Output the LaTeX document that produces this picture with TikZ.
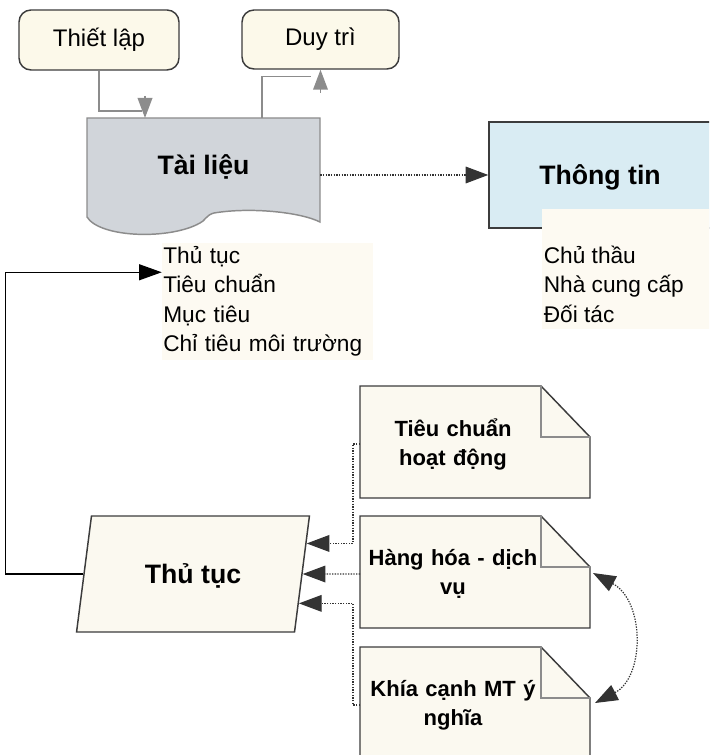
\documentclass[tikz,border=0pt]{standalone}
\usepackage{fontspec}
\setmainfont{Liberation Sans}
\usetikzlibrary{calc}
\usetikzlibrary{arrows.meta}
\usetikzlibrary{shapes.geometric}

\definecolor{creme}{RGB}{252,249,234}
\definecolor{docgrey}{RGB}{209,213,218}
\definecolor{infoblue}{RGB}{217,236,243}
\definecolor{notecreme}{RGB}{251,249,240}
\definecolor{listcreme}{RGB}{253,250,242}
\definecolor{linegrey}{RGB}{140,140,140}
\definecolor{edge}{RGB}{60,60,60}

\begin{document}
\begin{tikzpicture}[x=0.75pt,y=-0.75pt,
  topbox/.style={draw=edge,fill=creme,rounded corners=9pt,line width=1.1pt,font=\fontsize{18}{21}\selectfont},
  bigtext/.style={text depth=0pt,font=\fontsize{20}{24}\selectfont\bfseries},
  listtext/.style={align=left,inner xsep=1pt,inner ysep=3pt,font=\fontsize{17}{22}\selectfont},
  listbox/.style={listtext,fill=listcreme},
  notetext/.style={text width=132pt,align=center,inner xsep=0pt,outer xsep=3.75pt,font=\fontsize{16.5}{21.75}\selectfont\bfseries},
  notebd/.style={draw=edge,fill=notecreme,line width=1.1pt},
  foldline/.style={draw=linegrey,line width=0.9pt},
  procbox/.style={trapezium,trapezium left angle=75,trapezium right angle=105,trapezium stretches=true,
    minimum width=175.5pt,minimum height=87pt,draw=edge,fill=notecreme,line width=1.1pt,bigtext},
  greyline/.style={draw=linegrey,line width=1.1pt},
  greytip/.style={draw=linegrey,line width=1.1pt,-{Triangle[length=15pt,width=11pt]}},
  blackarrow/.style={draw=black,line width=0.9pt,-{Triangle[length=17pt,width=12pt]}},
  dotarrow/.style={draw=black!80,line width=0.9pt,dash pattern=on 1pt off 1pt,-{Triangle[length=17pt,width=12.5pt]}}]

\clip (0,0) rectangle (709,755);

% top boxes
\node[topbox,minimum width=120pt,minimum height=45pt] (setup) at (99,40) {Thiết lập};
\node[topbox,minimum width=117.75pt,minimum height=44.25pt] (keep) at (320.5,39.5) {Duy trì};

% document
\filldraw[draw=linegrey,fill=docgrey,line width=1.1pt] (87,118) -- (320,118) -- (320,222) .. controls (300,212) and (250,207) .. (214,213) .. controls (206,215) and (205,221) .. (200,223) .. controls (170,240) and (100,238) .. (87,217) -- cycle;
\node[bigtext,minimum width=174.75pt,minimum height=70.5pt] (doc) at (203.5,165) {Tài liệu};
\coordinate (docin) at (145,118);
\coordinate (docout) at (262,118);

\draw[greyline] (setup.south) |- ($(docin)+(-3,-7)$);
\draw[greytip] ($(docin)+(0,-22)$) -- (docin);
\draw[greyline] (docout) |- ($(keep.south)+(-10,7)$);
\draw[greytip] ($(keep.south)+(0,23)$) -- (keep.south);

\node[listbox,anchor=north west,text width=156pt] (list) at ($(doc.south west)+(75,30)$) {Thủ tục\\Tiêu chuẩn\\Mục tiêu\\Chỉ tiêu môi trường};

% info
\node[bigtext,draw=edge,fill=infoblue,line width=1.1pt,minimum width=166.5pt,minimum height=79.5pt] (info) at (600,175) {Thông tin};
\fill[listcreme] ($(info.south west)+(54,-20)$) rectangle ($(info.south east)+(0,100)$);
\node[listtext,anchor=north west] (partners) at ($(info.south west)+(54,13)$) {Chủ thầu\\Nhà cung cấp\\Đối tác};
\draw[dotarrow] (doc.east |- info.west) -- (info.west);

% notes
\foreach \nm/\y in {std/386,goods/516,aspect/647}{
  \coordinate (\nm) at (360,\y);
  \draw[notebd] (\nm) -- ++(181,0) -- ++(49,51) -- ++(0,61) -- ++(-230,0) -- cycle;
  \draw[foldline] ($(\nm)+(181,0)$) |- ($(\nm)+(230,51)$);
}
\node[notetext] (stdt) at ($(std)+(93,58)$) {Tiêu chuẩn\\hoạt động};
\node[notetext] (goodst) at ($(goods)+(93,58)$) {Hàng hóa - dịch\\vụ};
\node[notetext] (aspectt) at ($(aspect)+(93,58)$) {Khía cạnh MT ý\\nghĩa};

% procedure
\node[procbox] (proc) at (193,574) {Thủ tục};
\coordinate (pe1) at ($(proc.top right corner)!0.24!(proc.bottom right corner)$);
\coordinate (pe2) at ($(proc.top right corner)!0.5!(proc.bottom right corner)$);
\coordinate (pe3) at ($(proc.top right corner)!0.75!(proc.bottom right corner)$);

\draw[blackarrow] (proc.west) -- ++(-78,0) |- ($(list.north west)+(0,30)$);
\draw[dotarrow] (stdt.west) -- ++(-7,0) |- (pe1);
\draw[dotarrow] (goodst.west) -- (pe2);
\draw[dotarrow] (aspectt.west) -- ++(-7,0) |- (pe3);
\draw[dotarrow,{Triangle[length=17pt,width=12.5pt]}-{Triangle[length=17pt,width=12.5pt]}] ($(goods)+(233,57)$) .. controls ($(goods)+(285,85)$) and ($(aspect)+(285,30)$) .. ($(aspect)+(235,56)$);

\end{tikzpicture}
\end{document}
